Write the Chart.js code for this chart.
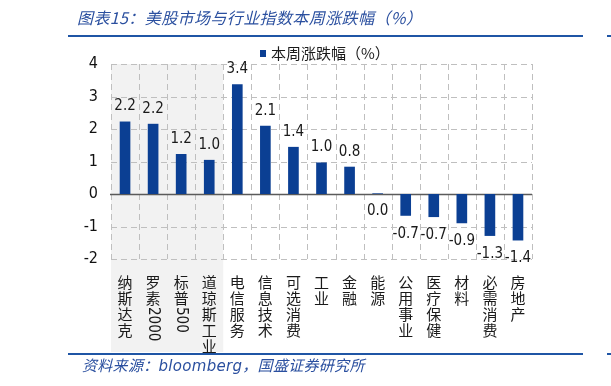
<!DOCTYPE html>
<html>
<head>
<meta charset="utf-8">
<script src="https://cdn.jsdelivr.net/npm/chart.js@4/dist/chart.umd.min.js"></script>
<style>
  html, body { margin: 0; padding: 0; background: #fff; }
  body { width: 611px; height: 386px; position: relative; overflow: hidden; }
  #wrap { position: absolute; left: 0; top: 0; width: 611px; height: 386px; }
  .title { position: absolute; left: 77px; top: 5px; font: italic 16px "Noto Sans CJK SC", sans-serif; color: #2a4f9f; white-space: nowrap; letter-spacing: 0.4px; }
  .foot { position: absolute; left: 82px; top: 354px; font: italic 15px "Noto Sans CJK SC", sans-serif; color: #2a4f9f; white-space: nowrap; letter-spacing: 0.3px; }
  .foot .en { font-family: "DejaVu Sans", sans-serif; font-size: 15px; }
  .rule { position: absolute; height: 2px; background: #1f55a5; }
</style>
</head>
<body>
<div id="wrap"><canvas id="c" width="611" height="386"></canvas></div>
<div class="title">图表15：美股市场与行业指数本周涨跌幅（%）</div>
<div class="rule" style="left:68px; width:515px; top:35px;"></div>
<div class="rule" style="left:607px; width:4px; top:35px;"></div>
<div class="rule" style="left:68px; width:515px; top:353px;"></div>
<div class="rule" style="left:607px; width:4px; top:353px;"></div>
<div class="foot">资料来源：<span class="en">bloomberg</span>，国盛证券研究所</div>
<script>
const categories = ["纳斯达克", "罗素2000", "标普500", "道琼斯工业", "电信服务", "信息技术", "可选消费", "工业", "金融", "能源", "公用事业", "医疗保健", "材料", "必需消费", "房地产"];
const weeklyChange = [2.2, 2.2, 1.2, 1.0, 3.4, 2.1, 1.4, 1.0, 0.8, 0.0, -0.7, -0.7, -0.9, -1.3, -1.4];
const barHeights = [2.23, 2.16, 1.23, 1.05, 3.38, 2.10, 1.45, 0.97, 0.84, 0.02, -0.67, -0.71, -0.90, -1.29, -1.43];
const seriesName = "本周涨跌幅（%）";
const shadedCount = 4;
const yTicks = [-2, -1, 0, 1, 2, 3, 4];

const BAR = "#0b3f93";
const NUMFONT = '"DejaVu Sans Condensed", "DejaVu Sans", sans-serif';
const CJKFONT = '"Noto Sans CJK SC", sans-serif';

const customPlugin = {
  id: 'custom',
  beforeDraw(chart) {
    const ctx = chart.ctx, x = chart.scales.x, y = chart.scales.y, area = chart.chartArea;
    const half = (x.getPixelForValue(1) - x.getPixelForValue(0)) / 2;
    const l = x.getPixelForValue(0) - half;
    const r = x.getPixelForValue(shadedCount - 1) + half;
    ctx.save();
    ctx.fillStyle = '#f2f2f2';
    ctx.fillRect(l, area.top, r - l, 352 - area.top);
    ctx.strokeStyle = '#bfbfbf';
    ctx.lineWidth = 1;
    ctx.setLineDash([6, 4]);
    yTicks.forEach(v => {
      if (v === 0) return;
      const py = Math.round(y.getPixelForValue(v)) + 0.5;
      ctx.beginPath();
      ctx.moveTo(area.left, py);
      ctx.lineTo(area.right, py);
      ctx.stroke();
    });
    for (let i = 0; i <= categories.length; i++) {
      const px = Math.round(x.getPixelForValue(i) - half) + 0.5;
      ctx.beginPath();
      ctx.moveTo(px, area.top);
      ctx.lineTo(px, area.bottom);
      ctx.stroke();
    }
    ctx.restore();
  },
  beforeDatasetsDraw(chart) {
    const ctx = chart.ctx, y = chart.scales.y, area = chart.chartArea;
    const y0 = Math.round(y.getPixelForValue(0)) + 0.5;
    ctx.save();
    ctx.strokeStyle = '#5a5a5a';
    ctx.lineWidth = 1.5;
    ctx.beginPath();
    ctx.moveTo(area.left - 1, y0);
    ctx.lineTo(area.right, y0);
    ctx.stroke();
    ctx.restore();
  },
  afterDatasetsDraw(chart) {
    const ctx = chart.ctx;
    const meta = chart.getDatasetMeta(0);
    ctx.save();
    ctx.font = '15px ' + NUMFONT;
    ctx.fillStyle = '#1a1a1a';
    ctx.textAlign = 'center';
    ctx.textBaseline = 'middle';
    meta.data.forEach((bar, i) => {
      const v = weeklyChange[i];
      const txt = v.toFixed(1);
      if (v > 0) ctx.fillText(txt, bar.x, bar.y - 15);
      else ctx.fillText(txt, bar.x, bar.y + 18);
    });
    ctx.restore();
  },
  afterDraw(chart) {
    const ctx = chart.ctx, x = chart.scales.x, area = chart.chartArea;
    ctx.save();
    ctx.fillStyle = '#1a1a1a';
    ctx.textBaseline = 'middle';
    const step = 16;
    categories.forEach((name, i) => {
      const cx = x.getPixelForValue(i);
      let cy = area.bottom + 23;
      const parts = name.match(/[0-9]+|./g);
      parts.forEach(p => {
        if (/^[0-9]+$/.test(p)) {
          ctx.font = '15px ' + NUMFONT;
          const w = ctx.measureText(p).width;
          const top = cy - 7;
          ctx.save();
          ctx.translate(cx, top + w / 2);
          ctx.rotate(Math.PI / 2);
          ctx.textAlign = 'center';
          ctx.fillText(p, 0, 0);
          ctx.restore();
          cy = top + w + 8;
        } else {
          ctx.font = '15px ' + CJKFONT;
          ctx.textAlign = 'center';
          ctx.fillText(p, cx, cy);
          cy += step;
        }
      });
    });
    const lx = 260, ly = 53;
    ctx.fillStyle = BAR;
    ctx.fillRect(lx, ly - 3, 6, 7);
    ctx.fillStyle = '#1a1a1a';
    ctx.font = '15px ' + CJKFONT;
    ctx.textAlign = 'left';
    ctx.fillText(chart.data.datasets[0].label, lx + 11, ly);
    ctx.restore();
  }
};

new Chart(document.getElementById('c'), {
  type: 'bar',
  data: {
    labels: categories,
    datasets: [{
      label: seriesName,
      data: barHeights,
      backgroundColor: BAR,
      borderWidth: 0,
      categoryPercentage: 1,
      barPercentage: 0.38
    }]
  },
  options: {
    responsive: false,
    animation: false,
    devicePixelRatio: 1,
    layout: { padding: { top: 64, right: 79, left: 0, bottom: 0 } },
    plugins: { legend: { display: false }, tooltip: { enabled: false } },
    scales: {
      x: {
        ticks: { display: false },
        grid: { display: false, offset: true },
        border: { display: false },
        afterFit(s) { s.height = 127; }
      },
      y: {
        min: -2, max: 4,
        afterBuildTicks(s) { s.ticks = yTicks.map(v => ({ value: v })); },
        ticks: {
          padding: 13,
          color: '#111',
          font: { size: 16, family: NUMFONT },
          callback: v => String(v)
        },
        grid: { display: false, drawTicks: false },
        border: { display: false },
        afterFit(s) { s.width = 111; }
      }
    }
  },
  plugins: [customPlugin]
});
</script>
</body>
</html>
